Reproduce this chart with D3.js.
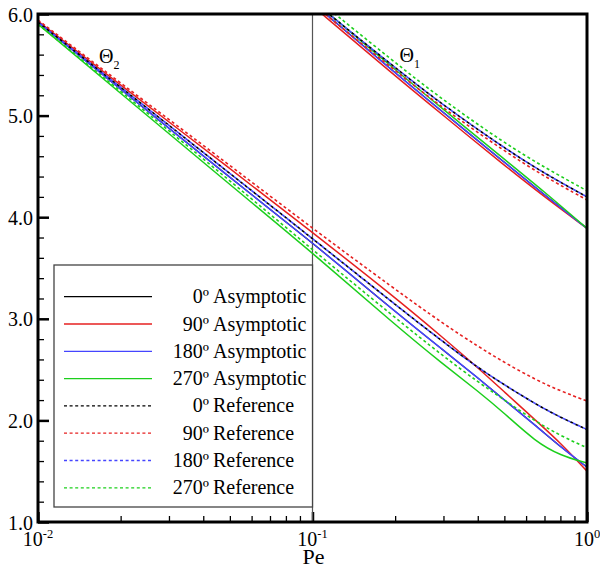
<!DOCTYPE html>
<html>
<head>
<meta charset="utf-8">
<script src="https://cdn.jsdelivr.net/npm/d3@7"></script>
<style>
  body { margin: 0; background: #fff; }
  svg text { font-family: "Liberation Serif", "Times New Roman", "DejaVu Serif", serif; fill: #000; }
</style>
</head>
<body>
<div id="chart"></div>
<script>
// Pe values and curves
const pe2 = [0.01, 0.02, 0.05, 0.1, 0.2, 0.3, 0.4, 0.5, 0.65, 0.8, 1.0]
const th2Asym0 = [5.92, 5.26, 4.39, 3.75, 3.07, 2.69, 2.42, 2.20, 1.95, 1.74, 1.54]
const th2Asym90 = [5.93, 5.30, 4.48, 3.85, 3.21, 2.81, 2.52, 2.28, 2.00, 1.78, 1.50]
const th2Asym180 = [5.92, 5.26, 4.39, 3.75, 3.07, 2.69, 2.42, 2.20, 1.95, 1.74, 1.54]
const th2Asym270 = [5.90, 5.22, 4.32, 3.65, 2.94, 2.55, 2.29, 2.07, 1.79, 1.655, 1.58]
const th2Ref0 = [5.92, 5.28, 4.43, 3.79, 3.14, 2.77, 2.52, 2.35, 2.16, 2.03, 1.91]
const th2Ref90 = [5.94, 5.32, 4.51, 3.89, 3.29, 2.95, 2.73, 2.57, 2.40, 2.29, 2.19]
const th2Ref180 = [5.92, 5.28, 4.43, 3.79, 3.14, 2.77, 2.52, 2.35, 2.16, 2.03, 1.91]
const th2Ref270 = [5.90, 5.24, 4.36, 3.68, 3.01, 2.63, 2.38, 2.20, 1.99, 1.85, 1.73]

const pe1 = [0.1, 0.2, 0.3, 0.5, 0.7, 1.0]
const th1Asym0 = [6.11, 5.42, 5.03, 4.54, 4.22, 3.89]
const th1Asym90 = [6.08, 5.39, 5.00, 4.51, 4.20, 3.89]
const th1Asym180 = [6.11, 5.42, 5.03, 4.54, 4.22, 3.89]
const th1Asym270 = [6.14, 5.45, 5.06, 4.57, 4.25, 3.89]
const th1Ref0 = [6.13, 5.47, 5.10, 4.68, 4.43, 4.20]
const th1Ref90 = [6.10, 5.44, 5.07, 4.65, 4.40, 4.17]
const th1Ref180 = [6.13, 5.47, 5.10, 4.68, 4.43, 4.20]
const th1Ref270 = [6.18, 5.52, 5.15, 4.73, 4.49, 4.26]

const angles = ['0º', '90º', '180º', '270º']
const kinds = ['Asymptotic', 'Reference']
const colors = ['#000000', '#e62020', '#4545ff', '#1ccf1c']

const yTicks = [1, 2, 3, 4, 5, 6]
const xMajor = [0.01, 0.1, 1]
const xExp = ['-2', '-1', '0']

// container
const margin = { top: 14, right: 13, bottom: 46, left: 38 },
    viewportWidth = 600,
    viewportHeight = 568,
    width = viewportWidth - margin.left - margin.right,
    height = viewportHeight - margin.top - margin.bottom

const svg = d3.select('#chart')
    .append('svg')
    .attr('width', viewportWidth)
    .attr('height', viewportHeight)

const g = svg.append('g')
    .attr('transform', `translate(${margin.left}, ${margin.top})`)

const x = d3.scaleLog().domain([0.01, 1]).range([0, width])
const y = d3.scaleLinear().domain([1, 6]).range([height, 0])

svg.append('defs').append('clipPath').attr('id', 'plot')
    .append('rect').attr('width', width).attr('height', height)

// minor ticks
const yMinor = d3.range(1, 6.001, 0.2).filter(v => Math.abs(v - Math.round(v)) > 0.01)
g.append('g')
    .call(d3.axisLeft(y).tickValues(yMinor).tickSize(-6).tickFormat(''))
    .call(a => a.select('.domain').remove())
    .selectAll('line').attr('stroke-width', 1.3)

g.append('g')
    .call(d3.axisLeft(y).tickValues(yTicks).tickSize(-11).tickPadding(5).tickFormat(d3.format('.1f')))
    .call(a => a.select('.domain').remove())
    .call(a => a.selectAll('line').attr('stroke-width', 2.5))
    .selectAll('text')
    .style('font-size', '20px')
    .attr('dy', '0.35em')

const xMinor = []
;[0.01, 0.1].forEach(d => { for (let k = 2; k <= 9; k++) xMinor.push(d * k) })
g.append('g')
    .attr('transform', `translate(0, ${height})`)
    .call(d3.axisBottom(x).tickValues(xMinor).tickSize(-6).tickFormat(''))
    .call(a => a.select('.domain').remove())
    .selectAll('line').attr('stroke-width', 1.3)

g.append('g')
    .attr('transform', `translate(0, ${height})`)
    .call(d3.axisBottom(x).tickValues(xMajor).tickSize(-10).tickFormat(''))
    .call(a => a.select('.domain').remove())
    .selectAll('line').attr('stroke-width', 2.5)

// x tick labels with exponents
xMajor.forEach((d, i) => {
    const t = g.append('text')
        .attr('x', x(d))
        .attr('y', height + 24)
        .attr('text-anchor', 'middle')
        .style('font-size', '20px')
    t.append('tspan').text('10')
    t.append('tspan').attr('dy', -8).style('font-size', '12.5px').text(xExp[i])
})

g.append('text')
    .attr('x', x(0.1) + 1)
    .attr('y', height + 42)
    .attr('text-anchor', 'middle')
    .style('font-size', '22px')
    .text('Pe')

// divider at Pe = 0.1
g.append('line')
    .attr('x1', x(0.1)).attr('x2', x(0.1))
    .attr('y1', 0).attr('y2', height)
    .attr('stroke', '#555').attr('stroke-width', 1.2)

// curves
const line = d3.line()
    .x(d => x(d[0]))
    .y(d => y(d[1]))
    .curve(d3.curveBasis)

const curves = g.append('g').attr('clip-path', 'url(#plot)')

const groups = [
    [pe2, [th2Asym0, th2Asym90, th2Asym180, th2Asym270], [th2Ref0, th2Ref90, th2Ref180, th2Ref270]],
    [pe1, [th1Asym0, th1Asym90, th1Asym180, th1Asym270], [th1Ref0, th1Ref90, th1Ref180, th1Ref270]]
]

groups.forEach(([pe, asym, ref]) => {
    asym.forEach((vals, i) => {
        curves.append('path')
            .attr('d', line(pe.map((p, j) => [p, vals[j]])))
            .attr('fill', 'none')
            .attr('stroke', colors[i])
            .attr('stroke-width', i === 0 ? 1.2 : 1.5)
    })
    ref.forEach((vals, i) => {
        curves.append('path')
            .attr('d', line(pe.map((p, j) => [p, vals[j]])))
            .attr('fill', 'none')
            .attr('stroke', colors[i])
            .attr('stroke-width', 1.6)
            .attr('stroke-dasharray', '3,2.6')
            .attr('stroke-dashoffset', i === 2 ? 2.8 : 0)
    })
})

// frame
g.append('rect')
    .attr('width', width)
    .attr('height', height)
    .attr('fill', 'none')
    .attr('stroke', '#000')
    .attr('stroke-width', 3)

// theta labels
const thetaLabel = (px, py, sub) => {
    const t = g.append('text').attr('x', px).attr('y', py).style('font-size', '20px')
    t.append('tspan').text('Θ')
    t.append('tspan').attr('dy', 6).style('font-size', '12px').text(sub)
}
thetaLabel(x(0.01) + 61, 49, '2')
thetaLabel(x(0.1) + 87, 48, '1')

// legend
const legend = g.append('g')
legend.append('rect')
    .attr('x', 16)
    .attr('y', 251)
    .attr('width', x(0.1) - 16)
    .attr('height', 242)
    .attr('fill', '#fff')
    .attr('stroke', '#444')
    .attr('stroke-width', 1.3)

const entries = []
kinds.forEach((k, ki) => angles.forEach((a, ai) => entries.push({ a, k, ki, color: colors[ai] })))

entries.forEach((e, i) => {
    const ly = 282.7 + i * 27.3
    legend.append('line')
        .attr('x1', 26).attr('x2', 114)
        .attr('y1', ly).attr('y2', ly)
        .attr('stroke', e.color)
        .attr('stroke-width', 1.3)
        .attr('stroke-dasharray', e.ki === 1 ? '3,2.6' : null)
    legend.append('text')
        .attr('x', 171).attr('y', ly + 6.5)
        .attr('text-anchor', 'end')
        .style('font-size', '20px')
        .text(e.a)
    legend.append('text')
        .attr('x', 175).attr('y', ly + 6.5)
        .style('font-size', '20px')
        .text(e.k)
})
</script>
</body>
</html>
